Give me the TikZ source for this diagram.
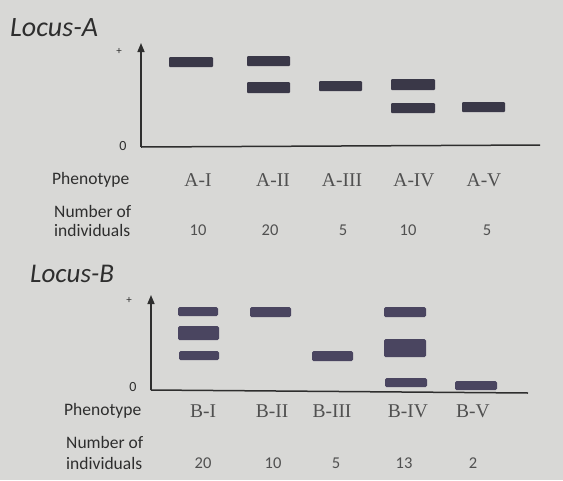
\documentclass[tikz,border=0pt]{standalone}
\usepackage{fontspec}
\setmainfont{Carlito}
\newfontfamily\serifl{Liberation Serif}
\usetikzlibrary{arrows.meta}
\definecolor{bg}{HTML}{D8D8D6}
\definecolor{bandA}{HTML}{3A3848}
\definecolor{bandB}{HTML}{4A4560}
\definecolor{ink}{HTML}{2E2E2E}
\definecolor{lbl}{HTML}{505050}
\tikzset{
  band/.style={fill=bandA, rounded corners=1pt},
  bandb/.style={fill=bandB, rounded corners=1.5pt},
  axis/.style={draw=ink, line width=1.5pt},
  title/.style={font=\fontsize{28}{30}\selectfont\itshape, text=ink, inner sep=0pt, anchor=west},
  rowlbl/.style={font=\fontsize{17.5}{19}\selectfont, text=ink, inner sep=0pt, anchor=west, align=left},
  pheno/.style={font=\serifl\fontsize{19.5}{21}\selectfont, text=lbl, inner sep=0pt},
  num/.style={font=\fontsize{16.5}{18}\selectfont, text=lbl, inner sep=0pt},
  tick/.style={font=\fontsize{11}{13}\selectfont, text=ink, inner sep=0pt},
}
\begin{document}
\begin{tikzpicture}[x=1pt,y=-1pt]
\fill[bg] (0,0) rectangle (563,480);
\useasboundingbox (0,0) rectangle (563,480);

% ---------------- Locus A ----------------
\node[title] (tA) at (10,28) {Locus-A};
\node[tick] (plusA) at (119,51) {+};
\node[tick, font=\fontsize{14}{16}\selectfont] (zeroA) at (123,146) {0};
\coordinate (oA) at (141,147);
\coordinate (topA) at (141,43);
\coordinate (endA) at (540,145);
\draw[axis, -{Triangle[length=9pt,width=7pt]}] (oA) -- (topA);
\draw[axis] (oA) -- (endA);

\fill[band] (169,57) rectangle (213,67);
\fill[band] (247,56) rectangle (290,66);
\fill[band] (247,82) rectangle (290,93);
\fill[band] (319,81) rectangle (362,91);
\fill[band] (391,79) rectangle (435,90);
\fill[band] (391,103) rectangle (435,113);
\fill[band] (462,102) rectangle (505,112);

\node[rowlbl] (phA) at (52,180) {Phenotype};
\node[pheno] (a1) at (198,180) {A-I};
\node[pheno] (a2) at (273,180) {A-II};
\node[pheno] (a3) at (342,180) {A-III};
\node[pheno] (a4) at (414,180) {A-IV};
\node[pheno] (a5) at (484,180) {A-V};

\node[rowlbl] (nA) at (54,221) {Number of\\[0pt]individuals};
\node[num] (na1) at (198,230) {10};
\node[num] (na2) at (270,230) {20};
\node[num] (na3) at (343,230) {5};
\node[num] (na4) at (408,230) {10};
\node[num] (na5) at (487,230) {5};

% ---------------- Locus B ----------------
\node[title, font=\fontsize{27}{29}\selectfont\itshape] (tB) at (30,274) {Locus-B};
\node[tick] (plusB) at (129,300) {+};
\node[tick, font=\fontsize{14}{16}\selectfont] (zeroB) at (133,387) {0};
\coordinate (oB) at (151,390);
\coordinate (topB) at (151,295);
\coordinate (endB) at (528,393);
\draw[axis, -{Triangle[length=9pt,width=7pt]}] (oB) -- (topB);
\draw[axis] (oB) -- (endB);

\fill[bandb] (178,307) rectangle (218,316);
\fill[bandb] (178,326) rectangle (219,340);
\fill[bandb] (179,351) rectangle (219,360);
\fill[bandb] (250,307) rectangle (291,317);
\fill[bandb] (312,351) rectangle (353,361);
\fill[bandb] (384,307) rectangle (426,317);
\fill[bandb] (384,339) rectangle (426,357);
\fill[bandb] (385,378) rectangle (427,387);
\fill[bandb] (455,381) rectangle (497,390);

\node[rowlbl] (phB) at (64,411) {Phenotype};
\node[pheno] (b1) at (203,411) {B-I};
\node[pheno] (b2) at (272,411) {B-II};
\node[pheno] (b3) at (332,411) {B-III};
\node[pheno] (b4) at (408,411) {B-IV};
\node[pheno] (b5) at (473,411) {B-V};

\node[rowlbl] (nB) at (66,453) {Number of\\[2pt]individuals};
\node[num] (nb1) at (203,463) {20};
\node[num] (nb2) at (273,463) {10};
\node[num] (nb3) at (336,463) {5};
\node[num] (nb4) at (404,463) {13};
\node[num] (nb5) at (473,463) {2};
\end{tikzpicture}
\end{document}
